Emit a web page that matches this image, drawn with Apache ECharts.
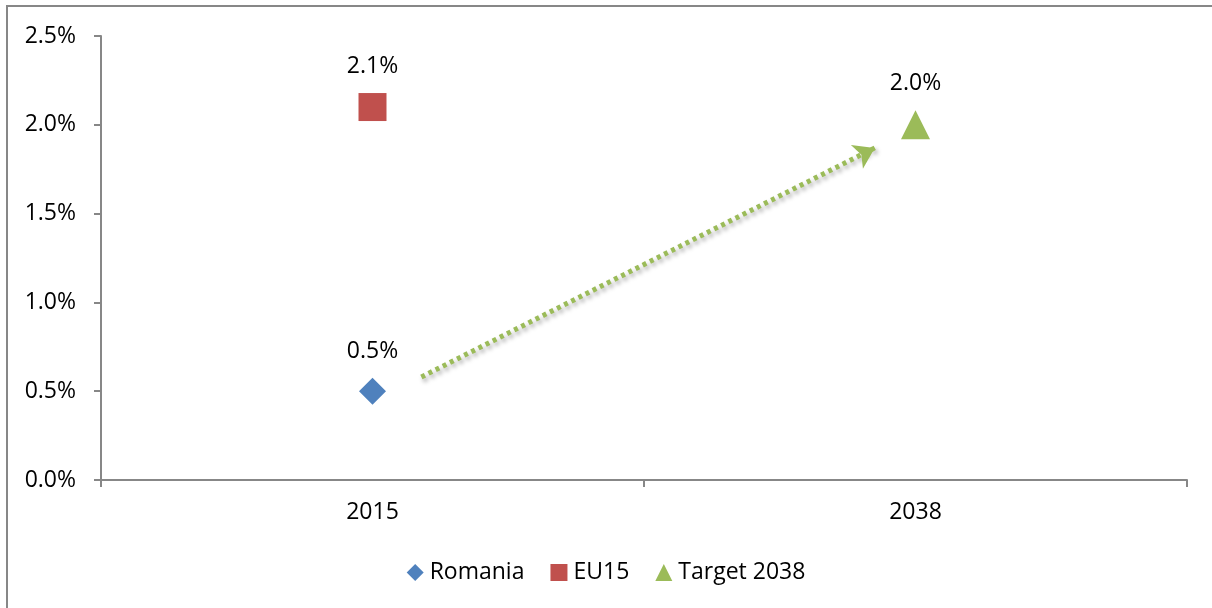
<!DOCTYPE html>
<html>
<head>
<meta charset="utf-8">
<script src="https://cdn.jsdelivr.net/npm/echarts@6/dist/echarts.min.js"></script>
<style>
    html, body { margin: 0; padding: 0; background: #fff; }
    #wrap { position: relative; width: 1212px; height: 608px; overflow: hidden; }
    #frame { position: absolute; left: 6px; top: 5px; width: 1300px; height: 700px;
             border-left: 2px solid #878787; border-top: 2px solid #878787; }
    #report { position: absolute; left: 0; top: 0; width: 1212px; height: 608px; }
</style>
</head>
<body>
<div id="wrap">
    <div id="frame"></div>
    <div id="report"></div>
</div>
<script>
// 数据
var categories = ['2015', '2038'];
var romania = [0.5, null];
var eu15 = [2.1, null];
var target2038 = [null, 2.0];
var yTicks = [0, 0.5, 1.0, 1.5, 2.0, 2.5];
// 箭头起止点 (x 为类目序号, y 为百分比)
var arrowFrom = [0.09, 0.58];
var arrowTo = [0.925, 1.87];

var font = '"Open Sans", Lato, sans-serif';
var fontSize = 23;
var axisColor = '#878787';

var myChart = echarts.init(document.getElementById('report'));

function pct(v) {
    return v.toFixed(1) + '%';
}

var labelStyle = {
    show: true,
    position: 'top',
    distance: 15,
    color: '#000',
    fontSize: fontSize,
    fontFamily: font,
    formatter: function (p) { return pct(p.value); }
};

var option = {
    animation: false,
    backgroundColor: 'transparent',
    grid: {
        left: 101,
        right: 25,
        top: 36,
        bottom: 128
    },
    legend: {
        bottom: 19,
        left: 'center',
        itemWidth: 17,
        itemHeight: 17,
        itemGap: 26,
        textStyle: { fontSize: fontSize, fontFamily: font, color: '#000', padding: [0, 0, 0, 1] },
        data: [
            { name: 'Romania', icon: 'diamond' },
            { name: 'EU15', icon: 'rect' },
            { name: 'Target 2038', icon: 'triangle' }
        ]
    },
    xAxis: [{
        type: 'category',
        data: categories,
        boundaryGap: true,
        axisLine: { lineStyle: { color: axisColor, width: 2 } },
        axisTick: { show: true, length: 7, lineStyle: { color: axisColor, width: 2 } },
        axisLabel: { margin: 21, fontSize: fontSize, fontFamily: font, color: '#000' },
        splitLine: { show: false }
    }, {
        type: 'value',
        min: -0.5,
        max: 1.5,
        show: false
    }],
    yAxis: {
        type: 'value',
        min: yTicks[0],
        max: yTicks[yTicks.length - 1],
        interval: 0.5,
        axisLine: { show: true, onZero: false, lineStyle: { color: axisColor, width: 2 } },
        axisTick: { show: true, length: 7, lineStyle: { color: axisColor, width: 2 } },
        axisLabel: { margin: 25, fontSize: fontSize, fontFamily: font, color: '#000', formatter: pct },
        splitLine: { show: false }
    },
    series: [
        {
            name: 'Romania',
            type: 'scatter',
            symbol: 'diamond',
            symbolSize: [27, 27],
            itemStyle: { color: '#4F81BD', opacity: 1 },
            label: labelStyle,
            data: romania
        },
        {
            name: 'EU15',
            type: 'scatter',
            symbol: 'rect',
            symbolSize: [28, 28],
            itemStyle: { color: '#C0504D', opacity: 1 },
            label: labelStyle,
            data: eu15
        },
        {
            name: 'Target 2038',
            type: 'scatter',
            symbol: 'triangle',
            symbolSize: [29, 29],
            itemStyle: { color: '#9BBB59', opacity: 1 },
            label: labelStyle,
            data: target2038
        },
        {
            name: 'arrow',
            type: 'lines',
            coordinateSystem: 'cartesian2d',
            xAxisIndex: 1,
            yAxisIndex: 0,
            symbol: ['none', 'arrow'],
            symbolSize: 20,
            silent: true,
            lineStyle: {
                color: '#9BBB59',
                width: 5,
                type: [4, 4],
                opacity: 1,
                shadowBlur: 4,
                shadowColor: 'rgba(0,0,0,0.35)',
                shadowOffsetX: 2,
                shadowOffsetY: 3
            },
            data: [{ coords: [arrowFrom, arrowTo] }]
        }
    ]
};

myChart.setOption(option);
</script>
</body>
</html>
